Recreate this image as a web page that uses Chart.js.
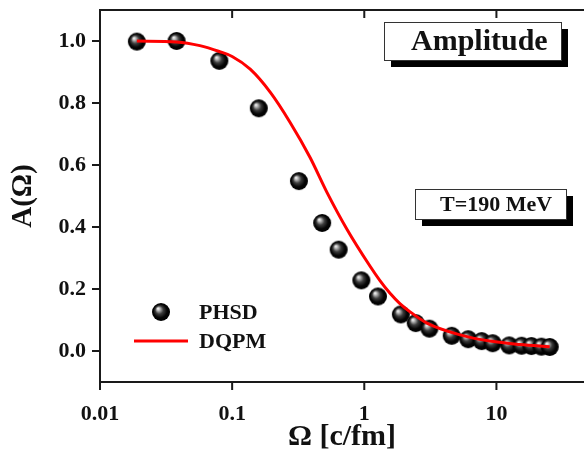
<!DOCTYPE html>
<html>
<head>
<meta charset="utf-8">
<script src="https://cdn.jsdelivr.net/npm/chart.js@4.4.0/dist/chart.umd.min.js"></script>
<style>
  html, body { margin: 0; padding: 0; background: #fff; }
  #wrap { position: relative; width: 584px; height: 449px; }
</style>
</head>
<body>
<div id="wrap"><canvas id="ampChart"></canvas></div>
<script>
// PHSD points (Omega in c/fm, amplitude)
const phsdOmega = [0.019, 0.038, 0.08, 0.159, 0.32, 0.48, 0.64, 0.95, 1.27, 1.89, 2.45, 3.11, 4.59, 6.12, 7.73, 9.36, 12.5, 15.5, 18.4, 21.9, 25.3];
const phsdAmp   = [0.998, 1.0, 0.936, 0.783, 0.548, 0.413, 0.327, 0.228, 0.176, 0.118, 0.09, 0.072, 0.049, 0.038, 0.032, 0.025, 0.018, 0.017, 0.016, 0.014, 0.013];

// DQPM curve
const dqpmOmega = [0.019, 0.038, 0.057, 0.08, 0.1, 0.137, 0.194, 0.274, 0.388, 0.523, 0.741, 1.10, 1.31, 1.56, 1.86, 2.21, 2.98, 5.30, 8.95, 15, 25.3];
const dqpmAmp   = [1.0, 0.997, 0.985, 0.966, 0.95, 0.909, 0.835, 0.738, 0.625, 0.511, 0.392, 0.275, 0.228, 0.187, 0.153, 0.127, 0.09, 0.052, 0.032, 0.021, 0.014];

const xTickLabels = [0.01, 0.1, 1, 10];
const yTickLabels = [0.0, 0.2, 0.4, 0.6, 0.8, 1.0];

const SERIF = '"Liberation Serif", "Times New Roman", serif';

// shaded sphere marker
const makeBall = (r) => {
    const c = document.createElement('canvas');
    c.width = c.height = r * 2 + 2;
    const g = c.getContext('2d');
    const cx = r + 1, cy = r + 1;
    const grad = g.createRadialGradient(cx - r * 0.35, cy - r * 0.4, 0, cx, cy, r);
    grad.addColorStop(0, '#ffffff');
    grad.addColorStop(0.15, '#c8c8c8');
    grad.addColorStop(0.45, '#3c3c3c');
    grad.addColorStop(0.75, '#050505');
    grad.addColorStop(1, '#000000');
    g.fillStyle = grad;
    g.beginPath();
    g.arc(cx, cy, r, 0, Math.PI * 2);
    g.fill();
    return c;
};
const ball = makeBall(9);

// axis frame + ticks (major/minor), top axis mirrored with inward ticks
const framePlugin = {
    id: 'frame',
    afterDraw(chart) {
        const { ctx, chartArea: a, scales } = chart;
        const xs = scales.x, ys = scales.y;
        ctx.save();
        ctx.strokeStyle = '#1a1a1a';
        ctx.lineWidth = 2;
        ctx.beginPath();
        ctx.moveTo(a.left, a.top); ctx.lineTo(a.right, a.top);
        ctx.moveTo(a.left, a.top - 1); ctx.lineTo(a.left, a.bottom + 1);
        ctx.moveTo(a.left - 1, a.bottom); ctx.lineTo(a.right, a.bottom);
        xs.ticks.forEach(t => {
            const v = t.value;
            const e = Math.floor(Math.log10(v) + 1e-9);
            const m = v / Math.pow(10, e);
            if (Math.abs(m - Math.round(m)) > 1e-6) return;
            const px = xs.getPixelForValue(v);
            if (px < a.left - 0.5 || px > a.right + 0.5) return;
            const len = Math.abs(m - 1) < 1e-6 ? 8 : 5;
            ctx.moveTo(px, a.bottom); ctx.lineTo(px, a.bottom + len);
            ctx.moveTo(px, a.top); ctx.lineTo(px, a.top + len);
        });
        ys.ticks.forEach(t => {
            const k = Math.round(t.value * 10);
            if (k < 0 || k > 10) return;
            const py = ys.getPixelForValue(t.value);
            const len = k % 2 === 0 ? 8 : 5;
            ctx.moveTo(a.left, py); ctx.lineTo(a.left - len, py);
        });
        ctx.stroke();
        ctx.restore();
    }
};

// legend and label boxes
const notesPlugin = {
    id: 'notes',
    afterDraw(chart) {
        const { ctx, chartArea: a } = chart;
        const ds = chart.data.datasets;
        ctx.save();
        ctx.textBaseline = 'middle';
        ctx.textAlign = 'left';
        ctx.fillStyle = '#111';
        ctx.font = 'bold 22px ' + SERIF;
        // legend
        const lx = a.left + 34, ly = a.top + 302;
        ctx.drawImage(ball, lx + 27 - ball.width / 2, ly - ball.height / 2);
        ctx.fillText(ds[0].label, lx + 65, ly + 1);
        ctx.strokeStyle = '#ff0000';
        ctx.lineWidth = 3;
        ctx.beginPath();
        ctx.moveTo(lx, ly + 29); ctx.lineTo(lx + 54, ly + 29);
        ctx.stroke();
        ctx.fillText(ds[1].label, lx + 65, ly + 30);

        const box = (x, y, w, h, sh, text, size, tx) => {
            ctx.fillStyle = '#000';
            ctx.fillRect(x + sh, y + sh, w, h);
            ctx.fillStyle = '#fff';
            ctx.fillRect(x, y, w, h);
            ctx.strokeStyle = '#333';
            ctx.lineWidth = 1;
            ctx.strokeRect(x + 0.5, y + 0.5, w, h);
            ctx.fillStyle = '#111';
            ctx.font = 'bold ' + size + 'px ' + SERIF;
            ctx.fillText(text, tx, y + h / 2 + 1);
        };
        box(384, 22, 177, 38, 7, 'Amplitude', 30, 411);
        box(415, 189, 151, 30, 7, 'T=190 MeV', 22, 440);
        ctx.restore();
    }
};

const ctx = document.getElementById('ampChart');
new Chart(ctx, {
    type: 'line',
    data: {
        datasets: [
            {
                label: 'PHSD',
                data: phsdOmega.map((x, i) => ({ x, y: phsdAmp[i] })),
                showLine: false,
                pointStyle: ball,
                pointRadius: 9,
                order: 1
            },
            {
                label: 'DQPM',
                data: dqpmOmega.map((x, i) => ({ x, y: dqpmAmp[i] })),
                borderColor: '#ff0000',
                borderWidth: 3,
                pointRadius: 0,
                cubicInterpolationMode: 'monotone',
                fill: false,
                order: 0
            }
        ]
    },
    options: {
        responsive: true,
        maintainAspectRatio: false,
        animation: false,
        layout: { autoPadding: false, padding: { top: 10, left: 0, right: 0, bottom: 0 } },
        plugins: {
            legend: { display: false },
            tooltip: { enabled: false }
        },
        scales: {
            x: {
                type: 'logarithmic',
                min: 0.01,
                max: 46,
                grid: { display: false },
                border: { display: false },
                afterFit: (s) => {
                    s.height = 67;
                    s.paddingLeft = 0;
                    s.paddingRight = 0;
                },
                ticks: {
                    autoSkip: false,
                    maxRotation: 0,
                    padding: 11,
                    color: '#111',
                    font: { family: SERIF, weight: 'bold', size: 22 },
                    callback: (v) => {
                        const hit = xTickLabels.find(t => Math.abs(v - t) / t < 1e-6);
                        return hit !== undefined ? String(hit) : null;
                    }
                },
                title: {
                    display: true,
                    text: 'Ω [c/fm]',
                    color: '#111',
                    padding: { top: 0, bottom: 0 },
                    font: { family: SERIF, weight: 'bold', size: 30, lineHeight: 0.8 }
                }
            },
            y: {
                min: -0.1,
                max: 1.1,
                grid: { display: false },
                border: { display: false },
                afterFit: (s) => {
                    s.width = 100;
                    s.paddingTop = 0;
                    s.paddingBottom = 0;
                },
                ticks: {
                    stepSize: 0.1,
                    autoSkip: false,
                    padding: 6,
                    color: '#111',
                    font: { family: SERIF, weight: 'bold', size: 22 },
                    callback: (v) => {
                        const hit = yTickLabels.find(t => Math.abs(v - t) < 1e-6);
                        return hit !== undefined ? hit.toFixed(1) : null;
                    }
                },
                title: {
                    display: true,
                    text: 'A(Ω)',
                    color: '#111',
                    padding: { top: 6, bottom: 0 },
                    font: { family: SERIF, weight: 'bold', size: 29 }
                }
            }
        }
    },
    plugins: [framePlugin, notesPlugin]
});
</script>
</body>
</html>
